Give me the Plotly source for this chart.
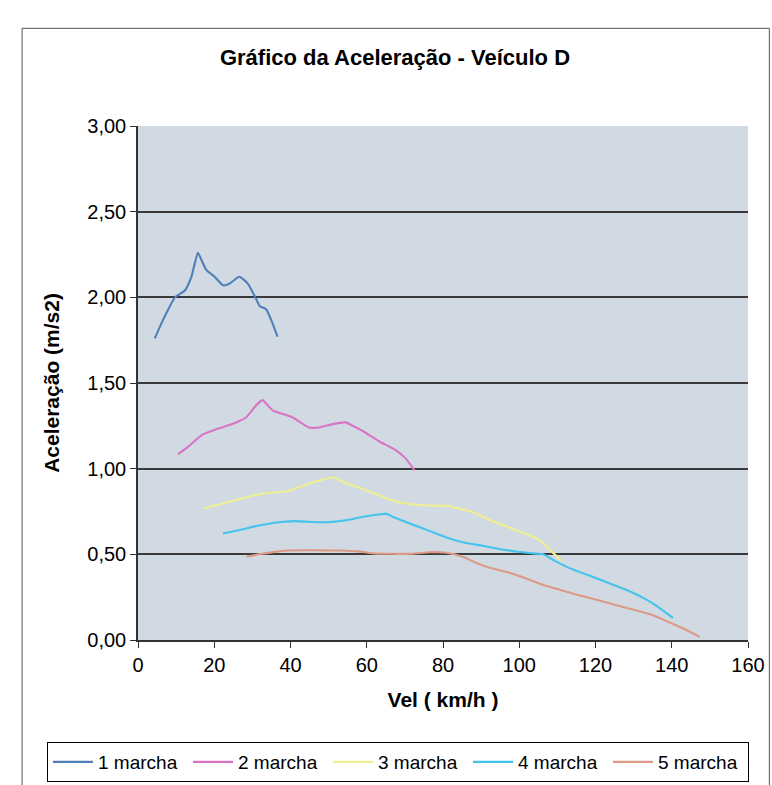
import plotly.graph_objects as go

# 1 marcha
vel1 = [4.4, 6.6, 9.7, 12.3, 14.0, 15.7, 16.6, 17.9, 20.1, 22.3, 24.0, 26.6, 28.8, 31.0, 31.9, 33.6, 34.9, 36.6]
acc1 = [1.76, 1.87, 2.00, 2.04, 2.12, 2.26, 2.22, 2.16, 2.12, 2.07, 2.08, 2.12, 2.08, 1.99, 1.95, 1.93, 1.87, 1.77]

# 2 marcha
vel2 = [10.5, 12.7, 17.0, 20.5, 25.8, 28.4, 31.0, 32.7, 33.6, 35.3, 37.9, 40.5, 44.9, 47.5, 51.0, 54.5, 56.3, 58.9, 63.2, 67.5, 70.2, 72.5]
acc2 = [1.085, 1.12, 1.20, 1.23, 1.27, 1.30, 1.37, 1.40, 1.38, 1.34, 1.32, 1.30, 1.24, 1.24, 1.26, 1.27, 1.25, 1.22, 1.16, 1.11, 1.06, 0.99]

# 3 marcha
vel3 = [17.2, 20.5, 25.1, 29.8, 34.5, 39.1, 43.8, 48.5, 51.3, 54.0, 57.8, 62.4, 67.1, 71.8, 76.4, 81.1, 83.9, 87.6, 92.3, 97.0, 101.6, 105.4, 108.2, 111.0]
acc3 = [0.768, 0.786, 0.814, 0.841, 0.859, 0.868, 0.905, 0.936, 0.950, 0.921, 0.891, 0.852, 0.812, 0.792, 0.785, 0.783, 0.769, 0.749, 0.700, 0.660, 0.620, 0.581, 0.523, 0.464]

# 4 marcha
vel4 = [22.3, 27.0, 31.7, 36.3, 41.0, 45.7, 50.3, 55.0, 58.7, 62.4, 65.2, 67.1, 71.8, 76.4, 81.1, 85.8, 90.4, 95.1, 99.8, 104.4, 106.3, 109.1, 113.7, 118.4, 123.1, 127.7, 132.4, 136.1, 140.3]
acc4 = [0.622, 0.644, 0.668, 0.686, 0.694, 0.689, 0.688, 0.700, 0.718, 0.731, 0.736, 0.716, 0.676, 0.637, 0.597, 0.567, 0.550, 0.530, 0.515, 0.504, 0.500, 0.465, 0.415, 0.376, 0.336, 0.296, 0.247, 0.198, 0.129]

# 5 marcha
vel5 = [28.4, 31.7, 35.4, 39.1, 43.8, 48.5, 53.1, 57.8, 62.4, 67.1, 71.8, 76.4, 80.2, 83.0, 85.8, 88.6, 92.3, 97.0, 101.6, 106.3, 111.0, 115.6, 120.3, 125.0, 129.6, 134.3, 139.0, 143.6, 147.3]
acc5 = [0.486, 0.500, 0.513, 0.522, 0.524, 0.523, 0.522, 0.517, 0.504, 0.503, 0.503, 0.512, 0.511, 0.500, 0.480, 0.451, 0.421, 0.395, 0.361, 0.321, 0.291, 0.261, 0.235, 0.206, 0.180, 0.150, 0.107, 0.061, 0.018]

series_names = ["1 marcha", "2 marcha", "3 marcha", "4 marcha", "5 marcha"]
series_colors = ["#4f7fb8", "#d874c8", "#eeee92", "#44c4ec", "#dc9a86"]

x_ticks = [0, 20, 40, 60, 80, 100, 120, 140, 160]
y_ticks = [0, 0.5, 1.0, 1.5, 2.0, 2.5, 3.0]

fig = go.Figure()
for xs, ys, name, col in zip([vel1, vel2, vel3, vel4, vel5], [acc1, acc2, acc3, acc4, acc5], series_names, series_colors):
    fig.add_trace(go.Scatter(x=xs, y=ys, mode="lines", name=name,
                             line=dict(color=col, width=2.1, shape="spline", smoothing=0.5)))

font_family = "Liberation Sans, Arial, sans-serif"

fig.update_layout(
    width=772, height=785,
    margin=dict(l=138, r=24, t=126, b=145, autoexpand=False),
    paper_bgcolor="white",
    plot_bgcolor="#d1dae3",
    separators=",.",
    font=dict(family=font_family, size=19, color="black"),
    title=dict(text="<b>Gráfico da Aceleração - Veículo D</b>",
               x=395/772, xanchor="center", xref="container",
               y=1 - 57/785, yanchor="middle", yref="container",
               font=dict(size=22, family=font_family, color="black")),
    xaxis=dict(range=[0, 160], tickvals=x_ticks, showgrid=False, zeroline=False,
               showline=True, linecolor="#333333", linewidth=1.5,
               ticks="outside", ticklen=6, tickcolor="#333333",
               tickfont=dict(size=20), fixedrange=True,
               title=dict(text="<b>Vel ( km/h )</b>", font=dict(size=21), standoff=18)),
    yaxis=dict(range=[0, 3], tickvals=y_ticks, tickformat=".2f",
               showgrid=True, gridcolor="#3a3a3a", gridwidth=1.5, zeroline=False,
               showline=True, linecolor="#333333", linewidth=1.5,
               ticks="outside", ticklen=6, tickcolor="#333333",
               tickfont=dict(size=20),
               title=dict(text="<b>Aceleração (m/s2)</b>", font=dict(size=21), standoff=22)),
    legend=dict(orientation="h", xref="paper", yref="paper",
                x=(47 - 138) / 610, xanchor="left", y=(640 - 742) / 514, yanchor="top",
                bordercolor="black", borderwidth=1, bgcolor="white",
                font=dict(size=19), itemwidth=40, entrywidth=85, entrywidthmode="pixels",
                tracegroupgap=0),
    shapes=[dict(type="rect", xref="paper", yref="paper", x0=-0.19, x1=1.035, y0=-0.29, y1=1.19,
                 line=dict(color="#555555", width=1), layer="below")],
)

fig.write_html("out.html")
